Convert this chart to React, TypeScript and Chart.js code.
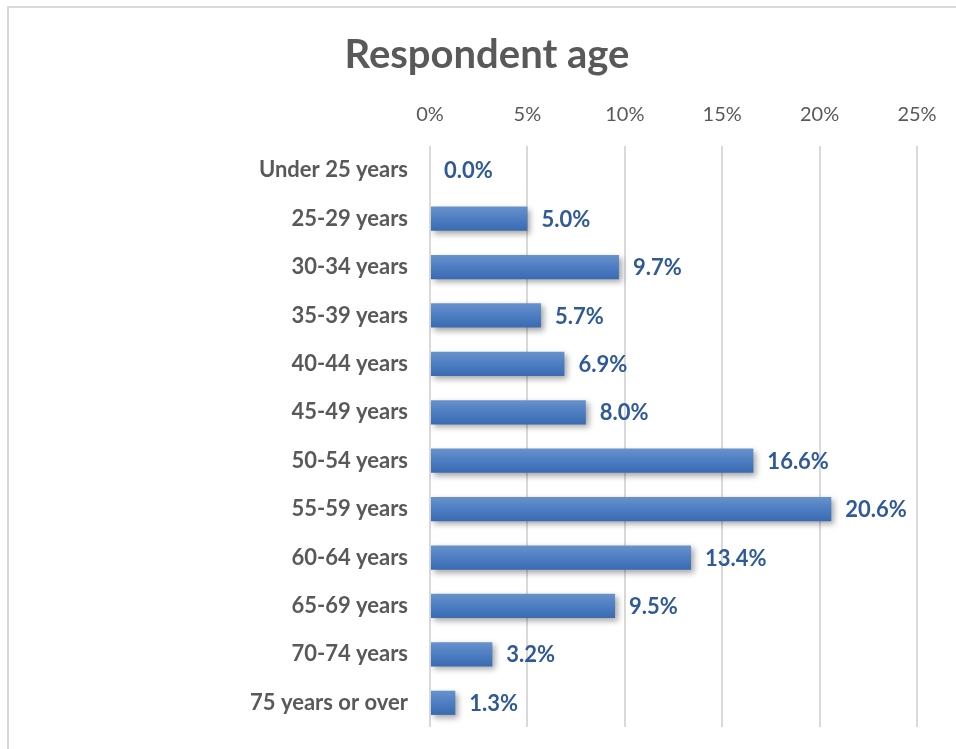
import React, { useEffect, useRef } from "react";
import { Chart, registerables } from "chart.js";

Chart.register(...registerables);

const categories = [
  "Under 25 years",
  "25-29 years",
  "30-34 years",
  "35-39 years",
  "40-44 years",
  "45-49 years",
  "50-54 years",
  "55-59 years",
  "60-64 years",
  "65-69 years",
  "70-74 years",
  "75 years or over",
];
const shares = [0.0, 5.0, 9.7, 5.7, 6.9, 8.0, 16.6, 20.6, 13.4, 9.5, 3.2, 1.3];
const tickValues = [0, 5, 10, 15, 20, 25];
const titleText = "Respondent age";

const FONT = "Lato, 'Open Sans', sans-serif";

export default function App() {
  const ref = useRef<HTMLCanvasElement | null>(null);

  useEffect(() => {
    if (!ref.current) return;

    const shadowPlugin = {
      id: "barShadow",
      beforeDatasetsDraw(chart: any) {
        const ctx = chart.ctx;
        ctx.save();
        ctx.shadowColor = "rgba(0,0,0,0.35)";
        ctx.shadowBlur = 6;
        ctx.shadowOffsetX = 3;
        ctx.shadowOffsetY = 3;
      },
      afterDatasetsDraw(chart: any) {
        chart.ctx.restore();
      },
    };

    const labelPlugin = {
      id: "valueLabels",
      afterDraw(chart: any) {
        const ctx = chart.ctx;
        const meta = chart.getDatasetMeta(0);
        ctx.save();
        ctx.font = `bold 22px ${FONT}`;
        ctx.fillStyle = "#30599A";
        ctx.textAlign = "left";
        ctx.textBaseline = "middle";
        meta.data.forEach((el: any, i: number) => {
          const v = chart.data.datasets[0].data[i] as number;
          ctx.fillText(v.toFixed(1) + "%", el.x + 14, el.y + 1);
        });
        ctx.restore();
      },
    };

    const zeroPad = (scale: any) => {
      scale.paddingTop = 0;
      scale.paddingBottom = 0;
      scale.paddingLeft = 0;
      scale.paddingRight = 0;
    };

    const chart = new Chart(ref.current, {
      type: "bar",
      data: {
        labels: categories,
        datasets: [
          {
            data: shares,
            backgroundColor: (c: any) => {
              const ch = c.chart;
              const ys = ch.scales && ch.scales.y;
              if (!ys || c.dataIndex === undefined || !isFinite(ys.getPixelForValue(c.dataIndex))) {
                return "#4A7BC0";
              }
              const cy = ys.getPixelForValue(c.dataIndex);
              const g = ch.ctx.createLinearGradient(0, cy - 12, 0, cy + 12);
              g.addColorStop(0, "#6892CC");
              g.addColorStop(0.5, "#4D7DC2");
              g.addColorStop(1, "#3A6BB2");
              return g;
            },
            borderWidth: 0,
            categoryPercentage: 1,
            barPercentage: 0.5,
          },
        ],
      },
      options: {
        indexAxis: "y",
        animation: false,
        responsive: false,
        maintainAspectRatio: false,
        layout: { padding: { top: 0, left: 57, right: 39, bottom: 22 } },
        plugins: {
          legend: { display: false },
          tooltip: { enabled: false },
          title: {
            display: true,
            text: titleText,
            color: "#595959",
            font: { family: FONT, size: 40, weight: "bold", lineHeight: 1.2 },
            padding: { top: 31, bottom: 0 },
          },
        },
        scales: {
          x: {
            position: "top",
            min: 0,
            max: 25,
            afterBuildTicks: (scale: any) => {
              scale.ticks = tickValues.map((v) => ({ value: v }));
            },
            afterFit: (scale: any) => {
              zeroPad(scale);
              scale.height = 67;
            },
            ticks: {
              padding: 19,
              color: "#595959",
              font: { family: FONT, size: 20 },
              callback: (v: any) => v + "%",
              maxRotation: 0,
            },
            grid: { color: "#D9D9D9", lineWidth: 2, drawTicks: false },
            border: { display: false },
          },
          y: {
            afterFit: (scale: any) => {
              zeroPad(scale);
              scale.width = 373;
            },
            ticks: {
              padding: 14,
              color: "#595959",
              font: { family: FONT, size: 22, weight: "bold" },
            },
            grid: { display: false },
            border: { display: false },
          },
        },
      },
      plugins: [shadowPlugin, labelPlugin],
    } as any);

    return () => chart.destroy();
  }, []);

  return (
    <div style={{ position: "fixed", left: 0, top: 0, width: 956, height: 749, background: "#fff" }}>
      <div
        style={{
          position: "absolute",
          left: 7,
          top: 6,
          right: -4,
          bottom: -4,
          borderTop: "2px solid #D9D9D9",
          borderLeft: "2px solid #D9D9D9",
        }}
      />
      <canvas ref={ref} width={956} height={749} style={{ position: "absolute", left: 0, top: 0 }} />
    </div>
  );
}
